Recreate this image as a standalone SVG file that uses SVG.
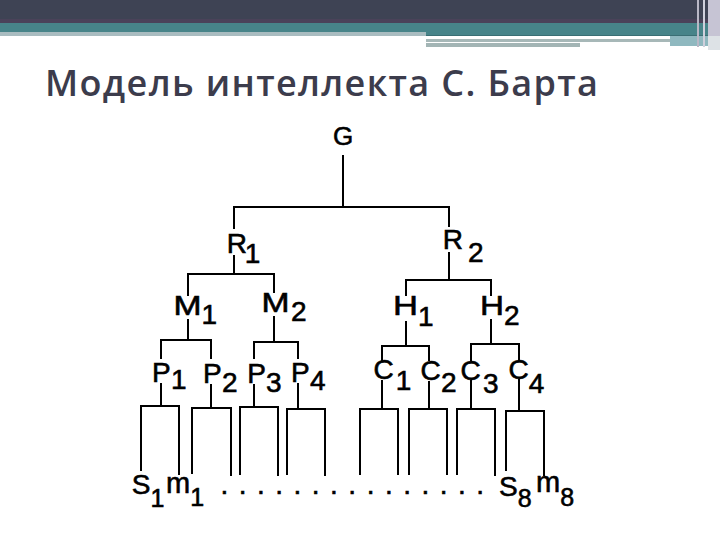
<svg xmlns="http://www.w3.org/2000/svg" width="720" height="540" viewBox="0 0 720 540">
<style>
.ln{stroke:#000;stroke-width:2;fill:none;stroke-linecap:square}
.lb{font-family:"Liberation Sans",Arial,sans-serif;font-size:28px;fill:#000;stroke:#000;stroke-width:0.6}
.big{font-size:29px}
.s24{font-size:25px}
.g{font-size:26px}
.title{font-family:"Open Sans","Noto Sans",sans-serif;font-size:36px;font-weight:600;fill:#3c3c4c}
</style>
<rect width="720" height="540" fill="#fff"/>
<g id="header">
<rect x="0" y="0" width="720" height="20" fill="#3e4354"/>
<rect x="0" y="19" width="720" height="4" fill="#4a4259"/>
<rect x="0" y="23" width="720" height="9" fill="#478489"/>
<rect x="0" y="32" width="426" height="4" fill="#a9bcc0"/>
<rect x="426" y="32" width="282" height="3" fill="#478489"/>
<rect x="426" y="35" width="282" height="1" fill="#3a6f74"/>
<rect x="426" y="39" width="244" height="3" fill="#a7b8b8"/>
<rect x="426" y="43" width="154" height="4" fill="#a3b5b5"/>
<rect x="670" y="36" width="38" height="10" fill="#8fb8bf"/>
<rect x="708" y="0" width="12" height="36" fill="#c6c4d4"/>
<rect x="708" y="36" width="12" height="14" fill="#dde2e6"/>
<rect x="697" y="0" width="2" height="47" fill="#b9b8c6"/>
<rect x="703" y="0" width="2" height="47" fill="#cfd0dc"/>
</g>
<text class="title" x="45" y="96" textLength="553" lengthAdjust="spacing">Модель интеллекта С. Барта</text>
<g id="connectors">
<path class="ln" d="M343 156V207M234 207H449M234 207V228M449 207V226"/>
<path class="ln" d="M234 256V274M188 274H274M188 274V295M274 274V292"/>
<path class="ln" d="M449 253V280M406 280H491M406 280V295M491 280V295"/>
<path class="ln" d="M188 320V340M161 340H211M161 340V358M211 340V358"/>
<path class="ln" d="M274 317V342M254 342H298M254 342V358M298 342V358"/>
<path class="ln" d="M406 322V346M382 346H429M382 346V360M429 346V360"/>
<path class="ln" d="M491 320V344M471 344H519M471 344V360M519 344V360"/>
<path class="ln" d="M161 384V406M141 406H179M141 406V470M179 406V474"/>
<path class="ln" d="M211 385V408M192 408H231M192 408V473M231 408V475"/>
<path class="ln" d="M254 385V407M240 407H278M240 407V474M278 407V475"/>
<path class="ln" d="M298 384V409M287 409H325M287 409V474M325 409V475"/>
<path class="ln" d="M382 381V409M360 409H398M360 409V474M398 409V474"/>
<path class="ln" d="M429 382V409M409 409H447M409 409V474M447 409V474"/>
<path class="ln" d="M471 381V409M457 409H495M457 409V474M495 409V475"/>
<path class="ln" d="M519 380V411M506 411H544M506 411V470M544 411V475"/>
</g>
<g id="G"><text class="lb g" x="343" y="145" text-anchor="middle">G</text></g>
<g id="R1"><text class="lb" x="226.7" y="253">R<tspan x="244.8" dy="10">1</tspan></text></g>
<g id="R2"><text class="lb" x="442.7" y="249">R<tspan x="468" dy="13">2</tspan></text></g>
<g id="M1"><text class="lb" x="173.6" y="315"><tspan textLength="28" lengthAdjust="spacingAndGlyphs">M</tspan><tspan x="201.6" dy="9">1</tspan></text></g>
<g id="M2"><text class="lb" x="261.6" y="312"><tspan textLength="28" lengthAdjust="spacingAndGlyphs">M</tspan><tspan x="291" dy="9">2</tspan></text></g>
<g id="H1"><text class="lb" x="393" y="315"><tspan textLength="25" lengthAdjust="spacingAndGlyphs">H</tspan><tspan x="418" dy="11">1</tspan></text></g>
<g id="H2"><text class="lb" x="480" y="315"><tspan textLength="24" lengthAdjust="spacingAndGlyphs">H</tspan><tspan x="504" dy="10">2</tspan></text></g>
<g id="P1"><text class="lb" x="152" y="382">P<tspan x="171" dy="7">1</tspan></text></g>
<g id="P2"><text class="lb" x="203" y="383">P<tspan x="222" dy="9">2</tspan></text></g>
<g id="P3"><text class="lb" x="247.2" y="383">P<tspan x="266" dy="9">3</tspan></text></g>
<g id="P4"><text class="lb" x="291" y="382">P<tspan x="310" dy="8">4</tspan></text></g>
<g id="C1"><text class="lb" x="373.5" y="379">C<tspan x="395.8" dy="11">1</tspan></text></g>
<g id="C2"><text class="lb" x="420.5" y="380">C<tspan x="441" dy="12">2</tspan></text></g>
<g id="C3"><text class="lb" x="460.5" y="380">C<tspan x="483" dy="13">3</tspan></text></g>
<g id="C4"><text class="lb" x="508.5" y="379">C<tspan x="528.8" dy="14">4</tspan></text></g>
<g id="S1"><text class="lb" x="131.7" y="494">S<tspan class="s24" x="150.5" dy="13">1</tspan></text></g>
<g id="m1"><text class="lb" x="166" y="493"><tspan class="big">m</tspan><tspan class="s24" x="190.2" dy="13">1</tspan></text></g>
<g id="dots"><text class="lb" x="220.4" y="494" letter-spacing="10.5">...............</text></g>
<g id="S8"><text class="lb" x="499" y="496">S<tspan class="s24" x="517.7" dy="11">8</tspan></text></g>
<g id="m8"><text class="lb" x="536" y="492"><tspan class="big">m</tspan><tspan class="s24" x="560.2" dy="14">8</tspan></text></g>
</svg>
